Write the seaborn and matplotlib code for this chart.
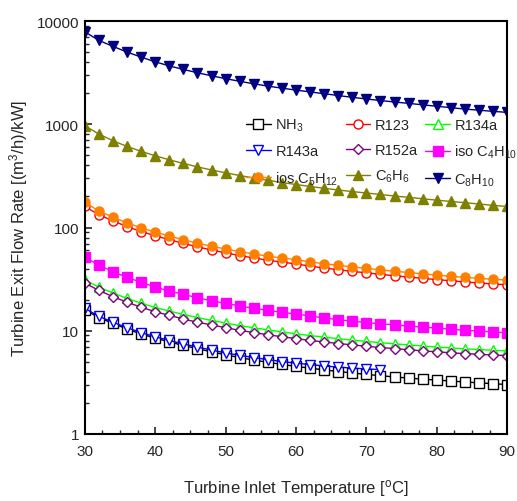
import matplotlib
matplotlib.use("Agg")
import matplotlib.pyplot as plt
import matplotlib.ticker as mticker
import seaborn as sns

# Turbine inlet temperature [C]
temp = [30, 32, 34, 36, 38, 40, 42, 44, 46, 48, 50, 52, 54, 56, 58, 60,
        62, 64, 66, 68, 70, 72, 74, 76, 78, 80, 82, 84, 86, 88, 90]
temp_r143a = temp[:22]

# Turbine exit flow rate [(m3/h)/kW]
nh3 = [16.0, 13.4, 11.8, 10.4, 9.3, 8.5, 7.8, 7.2, 6.7, 6.25, 5.85, 5.5, 5.2, 4.95, 4.72, 4.52,
       4.34, 4.18, 4.03, 3.9, 3.78, 3.67, 3.57, 3.48, 3.40, 3.33, 3.26, 3.19, 3.13, 3.07, 3.01]
r123 = [160, 133, 116, 102, 91.5, 83.3, 76.3, 70.2, 65.0, 60.6, 56.8, 53.5, 50.7, 48.3, 46.2, 44.4,
        42.3, 40.5, 39.0, 37.6, 36.4, 35.2, 34.1, 33.1, 32.2, 31.3, 30.5, 29.7, 29.0, 28.4, 27.9]
r134a = [31.0, 26.5, 23.2, 20.6, 18.5, 16.8, 15.5, 14.4, 13.4, 12.6, 11.9, 11.2, 10.7, 10.2, 9.75, 9.35,
         8.98, 8.68, 8.38, 8.12, 7.88, 7.66, 7.48, 7.29, 7.11, 6.96, 6.82, 6.68, 6.58, 6.47, 6.38]
r143a = [16.5, 13.8, 12.1, 10.7, 9.6, 8.75, 8.05, 7.45, 6.95, 6.5, 6.1, 5.78, 5.5, 5.25, 5.03, 4.85,
         4.7, 4.56, 4.45, 4.35, 4.27, 4.2]
r152a = [29.0, 24.6, 21.4, 18.9, 16.9, 15.3, 14.1, 13.0, 12.1, 11.4, 10.7, 10.1, 9.6, 9.15, 8.75, 8.4,
         8.05, 7.8, 7.52, 7.3, 7.07, 6.88, 6.72, 6.55, 6.38, 6.25, 6.12, 6.0, 5.92, 5.82, 5.75]
iso_c4h10 = [51.4, 43.4, 37.3, 32.9, 29.5, 26.5, 24.3, 22.5, 20.9, 19.5, 18.4, 17.4, 16.5, 15.8, 15.1, 14.5,
             13.9, 13.3, 12.8, 12.4, 12.0, 11.7, 11.4, 11.1, 10.85, 10.6, 10.35, 10.1, 9.93, 9.73, 9.55]
ios_c5h12 = [175, 145, 126, 111, 99.5, 90.4, 82.8, 76.2, 70.5, 65.8, 61.9, 58.4, 55.4, 52.9, 50.7, 48.8,
             46.5, 44.6, 43.0, 41.5, 40.2, 38.9, 37.7, 36.6, 35.6, 34.6, 33.7, 32.9, 32.2, 31.5, 31.0]
c6h6 = [968, 805, 693, 611, 547, 496, 453, 418, 387, 361, 339, 319, 302, 287, 273, 261,
        250, 240, 231, 223, 216, 209, 202, 196, 190, 184, 179, 174, 169, 164, 160]
c8h10 = [7880, 6500, 5690, 5010, 4480, 4030, 3680, 3400, 3160, 2950, 2770, 2610, 2470, 2345, 2240, 2145,
         2060, 1980, 1900, 1825, 1760, 1700, 1645, 1595, 1545, 1495, 1450, 1405, 1370, 1335, 1305]

sns.set_style("ticks")
plt.rcParams['font.family'] = ['Liberation Sans', 'DejaVu Sans']
plt.rcParams['mathtext.fontset'] = 'custom'
plt.rcParams['mathtext.rm'] = 'Liberation Sans'
plt.rcParams['mathtext.it'] = 'Liberation Sans'

fig = plt.figure(figsize=(5.17, 5.02), dpi=100)
ax = fig.add_axes([0.164, 0.1335, 0.817, 0.8225])

# (x, y, label, color, marker, filled)
series = [
    (temp, nh3, 'NH$_3$', 'black', 's', False),
    (temp, r123, 'R123', 'red', 'o', False),
    (temp, r134a, 'R134a', '#00ff00', '^', False),
    (temp_r143a, r143a, 'R143a', 'blue', 'v', False),
    (temp, r152a, 'R152a', '#800080', 'D', False),
    (temp, iso_c4h10, 'iso C$_4$H$_{10}$', '#ff00ff', 's', True),
    (temp, ios_c5h12, 'ios C$_5$H$_{12}$', '#ff8000', 'o', True),
    (temp, c6h6, 'C$_6$H$_6$', '#808000', '^', True),
    (temp, c8h10, 'C$_8$H$_{10}$', '#000080', 'v', True),
]

for x, y, label, color, marker, filled in series:
    ms = 5.5 if marker == 'D' else 6.5
    sns.lineplot(x=x, y=y, ax=ax, color=color, linewidth=1.0, marker=marker,
                 markersize=ms, markeredgecolor=color, markeredgewidth=1.0,
                 markerfacecolor=color if filled else 'white', label=label)

ax.set_yscale('log')
ax.set_xlim(30, 90)
ax.set_ylim(1, 10000)
ax.xaxis.set_major_locator(mticker.MultipleLocator(10))
ax.xaxis.set_minor_locator(mticker.MultipleLocator(2.5))
ax.yaxis.set_major_formatter(mticker.FuncFormatter(lambda v, p: '%d' % v))
ax.yaxis.set_minor_locator(mticker.LogLocator(base=10, subs=range(2, 10)))
ax.yaxis.set_minor_formatter(mticker.NullFormatter())
ax.tick_params(which='both', direction='in', top=False, right=False, labelsize=11)
ax.tick_params(which='major', length=5, width=1.2)
ax.tick_params(which='minor', length=3, width=1.0)
ax.tick_params(axis='x', which='major', pad=7)
ax.tick_params(axis='y', which='major', pad=4)
for s in ax.spines.values():
    s.set_linewidth(1.5)
    s.set_color('black')

ax.set_xlabel('Turbine Inlet Temperature [$^{o}$C]', fontsize=12, labelpad=14)
ax.set_ylabel('Turbine Exit Flow Rate [(m$^3$/h)/kW]', fontsize=12, labelpad=5)

# legend filled column by column: reorder so rows read as in the figure
h, l = ax.get_legend_handles_labels()
order = [0, 3, 6, 1, 4, 7, 2, 5, 8]
ax.legend([h[i] for i in order], [l[i] for i in order], ncol=3, frameon=False,
          loc='upper left', bbox_to_anchor=(0.375, 0.775), fontsize=10.5,
          handlelength=1.7, handletextpad=0.3, columnspacing=0.5,
          labelspacing=0.75, borderaxespad=0, borderpad=0.2)

plt.savefig('out.png', dpi=100)
